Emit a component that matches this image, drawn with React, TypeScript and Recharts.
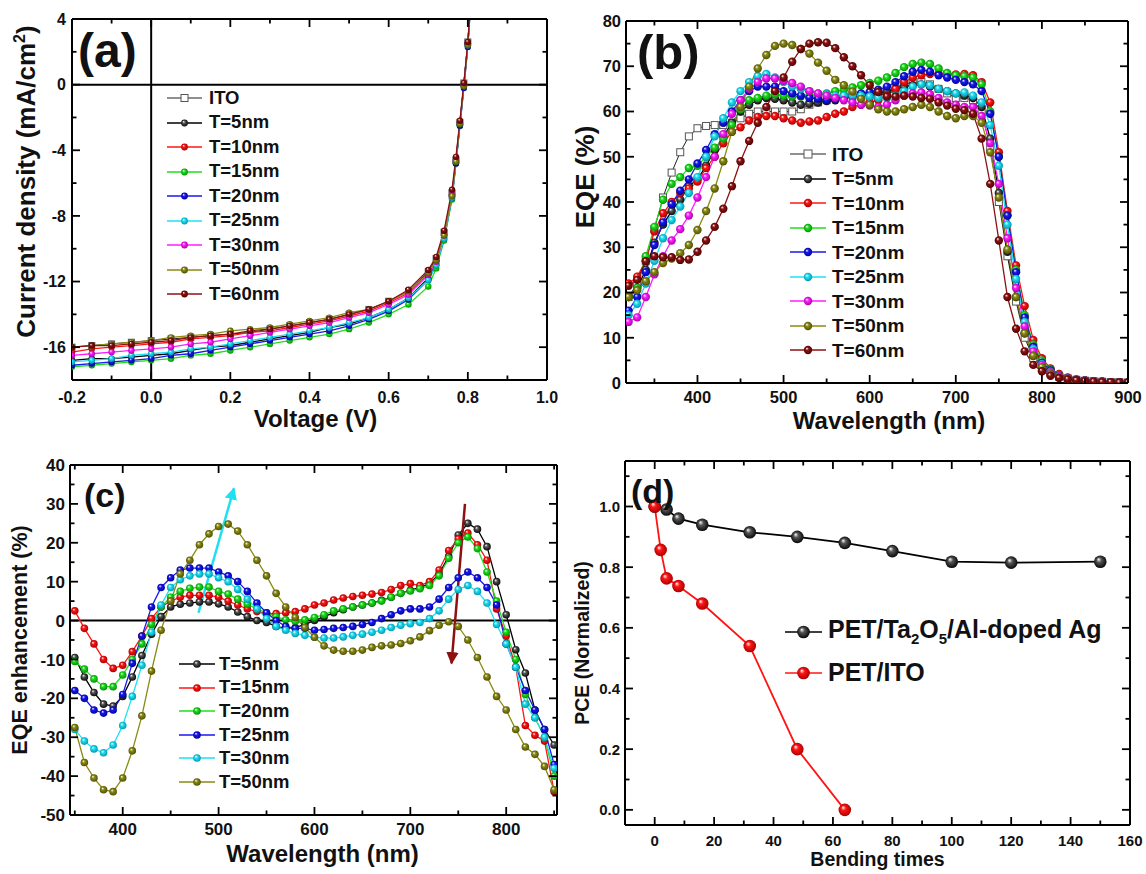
import { LineChart, Line, XAxis, YAxis, ReferenceLine } from 'recharts'

const FONT = '"Liberation Sans", Arial, Helvetica, sans-serif'
const GAP = 6

const COLORS: Record<string, [string, string]> = {
  black: ['#000000', '#000000'],
  red: ['#ff1414', '#a00000'],
  green: ['#1ede1e', '#008a00'],
  blue: ['#1818f0', '#000090'],
  cyan: ['#1fe0f2', '#0090a8'],
  magenta: ['#ff1eff', '#a000a0'],
  olive: ['#8a8a14', '#4a4a00'],
  maroon: ['#8c1212', '#4a0000'],
}

// ---------- (a) J-V curves ----------
const voltage = [-0.2, -0.15, -0.1, -0.05, 0, 0.05, 0.1, 0.15, 0.2, 0.25, 0.3, 0.35, 0.4, 0.45, 0.5, 0.55, 0.6, 0.65, 0.7, 0.72, 0.74, 0.76, 0.77, 0.78, 0.79, 0.8, 0.81]
const jvITO = [-16.0, -15.9, -15.8, -15.7, -15.6, -15.5, -15.4, -15.3, -15.2, -15.1, -14.9, -14.7, -14.5, -14.3, -14.0, -13.7, -13.2, -12.6, -11.4, -10.6, -9.0, -6.6, -4.6, -2.3, 0.1, 2.6, 6]
const jvT5 = [-16.8, -16.7, -16.7, -16.6, -16.5, -16.4, -16.2, -16.0, -15.9, -15.7, -15.5, -15.3, -15.1, -14.8, -14.6, -14.2, -13.7, -13.0, -11.8, -10.9, -9.3, -6.8, -4.7, -2.4, 0.0, 2.5, 6]
const jvT10 = [-16.3, -16.1, -16.0, -15.9, -15.8, -15.7, -15.5, -15.4, -15.3, -15.1, -15.0, -14.8, -14.6, -14.4, -14.1, -13.8, -13.3, -12.7, -11.5, -10.7, -9.1, -6.7, -4.6, -2.3, 0.0, 2.5, 6]
const jvT15 = [-17.2, -17.1, -17.0, -16.9, -16.8, -16.7, -16.5, -16.4, -16.2, -16.0, -15.8, -15.6, -15.4, -15.2, -14.9, -14.5, -14.0, -13.4, -12.3, -11.2, -9.5, -7.0, -4.8, -2.5, -0.1, 2.4, 6]
const jvT20 = [-17.1, -17.0, -16.9, -16.8, -16.7, -16.5, -16.4, -16.2, -16.0, -15.8, -15.6, -15.4, -15.2, -15.0, -14.7, -14.3, -13.8, -13.1, -11.9, -11.0, -9.4, -6.9, -4.8, -2.5, -0.2, 2.3, 6]
const jvT25 = [-16.9, -16.8, -16.7, -16.5, -16.4, -16.3, -16.1, -16.0, -15.8, -15.6, -15.4, -15.2, -15.0, -14.8, -14.5, -14.2, -13.7, -13.0, -11.9, -11.0, -9.4, -6.9, -4.7, -2.4, -0.1, 2.4, 6]
const jvT30 = [-16.5, -16.4, -16.3, -16.2, -16.1, -16.0, -15.8, -15.7, -15.5, -15.3, -15.1, -14.9, -14.7, -14.5, -14.2, -13.9, -13.4, -12.8, -11.6, -10.8, -9.2, -6.7, -4.6, -2.3, 0.0, 2.5, 6]
const jvT50 = [-16.0, -15.9, -15.8, -15.7, -15.6, -15.4, -15.3, -15.2, -15.0, -14.9, -14.8, -14.6, -14.4, -14.2, -13.9, -13.7, -13.2, -12.6, -11.5, -10.7, -9.2, -6.8, -4.7, -2.4, -0.1, 2.4, 6]
const jvT60 = [-16.0, -15.9, -15.9, -15.8, -15.7, -15.6, -15.4, -15.3, -15.2, -15.0, -14.9, -14.7, -14.5, -14.3, -14.0, -13.7, -13.2, -12.5, -11.3, -10.5, -8.9, -6.4, -4.4, -2.2, 0.1, 2.6, 6]

// ---------- (b) EQE spectra, 320..900 nm every 10 nm ----------
const wavelengthB = [320, 330, 340, 350, 360, 370, 380, 390, 400, 410, 420, 430, 440, 450, 460, 470, 480, 490, 500, 510, 520, 530, 540, 550, 560, 570, 580, 590, 600, 610, 620, 630, 640, 650, 660, 670, 680, 690, 700, 710, 720, 730, 740, 750, 760, 770, 780, 790, 800, 810, 820, 830, 840, 850, 860, 870, 880, 890, 900]
const eqeITO = [19, 22, 27, 34, 41, 46.5, 51, 54.5, 56.3, 56.8, 57, 57, 57.5, 58.5, 59.5, 60, 60, 60, 60, 60, 60.5, 61.5, 62, 62.5, 63, 63.3, 63.5, 63.5, 63.5, 63.7, 64, 65, 66, 66.5, 66.5, 66, 65, 64, 63, 63, 62.5, 60, 52, 40, 28, 18, 10, 5.5, 3.5, 2.2, 1.4, 1, 0.7, 0.5, 0.4, 0.3, 0.2, 0.2, 0.1]
const eqeT5 = [19, 21, 25, 31, 35, 38, 40.5, 43.5, 45, 48, 51.5, 54.5, 57.5, 60, 61.5, 62.5, 63, 62.8, 62.5, 62, 61.5, 61.7, 62, 62.3, 62.5, 63, 63.3, 63.5, 63.8, 64, 64.5, 65, 65.5, 65.8, 66, 65.5, 65, 64.5, 64, 63.5, 63, 61, 54, 42, 29, 19, 11, 6, 3.7, 2.3, 1.5, 1, 0.7, 0.5, 0.4, 0.3, 0.2, 0.2, 0.1]
const eqeT10 = [22, 23.5, 27, 33.5, 37.5, 40, 42, 43, 44.5, 47.5, 50, 53, 55.5, 56.5, 58, 58.8, 59, 59, 58.5, 58, 57.5, 57.8, 58, 58.8, 59.5, 60, 61, 61.5, 62, 62.5, 63.5, 65, 66.5, 67.5, 68, 68.3, 68.3, 68.3, 68.2, 68.3, 68, 66.5, 62, 51, 38, 26, 17, 9.5, 5.5, 3.2, 2, 1.2, 0.8, 0.6, 0.4, 0.3, 0.2, 0.2, 0.1]
const eqeT15 = [19, 21, 28, 34.5, 40.5, 44, 45.5, 47.5, 48, 50, 52, 54, 57, 60.5, 62.5, 63, 63.5, 63.8, 63.5, 63.3, 63.3, 63.5, 63.8, 64, 64.5, 64.8, 65.3, 65.8, 66.3, 66.8, 67.5, 68.5, 69.8, 70.5, 70.8, 70.5, 69.5, 68.5, 68, 67.8, 67.5, 66, 60, 50, 37, 25, 15, 8.5, 5, 3, 1.8, 1.1, 0.8, 0.5, 0.4, 0.3, 0.2, 0.2, 0.1]
const eqeT20 = [16, 19, 24.5, 30.5, 35.5, 39.5, 42.5, 45, 48.5, 51.5, 55, 57.5, 60, 62.5, 64.5, 65.5, 65.5, 65.5, 64.5, 64, 63.5, 63, 62.8, 62.5, 62.8, 63.2, 63.5, 64, 64.3, 64.8, 65.5, 66.5, 67.8, 68.8, 69.2, 68.8, 68, 67.5, 67, 66.5, 66, 64.5, 59.5, 50, 37, 24.5, 14.5, 8, 4.5, 2.8, 1.6, 1, 0.7, 0.5, 0.4, 0.3, 0.2, 0.2, 0.1]
const eqeT25 = [15, 17.5, 22, 27, 32, 36, 39, 42, 45.5, 50, 54.5, 58.5, 62, 64.5, 66.5, 67.8, 68.3, 67.5, 66.5, 65.5, 65, 64.5, 64, 63.8, 63.5, 63.5, 63.5, 63.5, 63.3, 63, 63, 63.5, 64.5, 65.5, 66, 65.8, 65, 64.5, 64, 64.2, 63.5, 62, 57, 48, 35, 23, 13.5, 7.5, 4.2, 2.5, 1.5, 1, 0.7, 0.5, 0.4, 0.3, 0.2, 0.2, 0.1]
const eqeT30 = [13.5, 14.5, 19, 24, 28, 31.5, 34, 37, 41, 45.5, 50, 55, 59.5, 62.5, 65, 66.5, 67.3, 67.3, 66.8, 66.3, 65.5, 64.5, 64, 63.5, 63, 62.5, 62, 61.5, 61.3, 61, 61.5, 62.5, 63.5, 64, 64.2, 63.8, 63, 62, 61.5, 61, 61, 59, 53, 44, 32, 21, 12.5, 7, 4, 2.4, 1.5, 1, 0.7, 0.5, 0.4, 0.3, 0.2, 0.2, 0.1]
const eqeT50 = [19, 20.5, 22.5, 24.5, 26.5, 27.5, 28.7, 30.5, 33.8, 38, 43, 49, 55.5, 61, 65.5, 69.5, 72.5, 74.5, 75, 74.7, 73.8, 72.8, 70.8, 69, 67, 65.8, 64.4, 62.8, 61.5, 60.5, 60, 60, 60.5, 61, 61.5, 61, 60, 59, 58.5, 59, 59, 57.5, 51, 41, 29.5, 19, 11, 6, 3.5, 2, 1.3, 0.9, 0.6, 0.4, 0.3, 0.2, 0.2, 0.1, 0.1]
const eqeT60 = [21.5, 22.8, 26.9, 28, 27.8, 27.8, 27.2, 27.3, 29, 31.5, 34.5, 38.5, 43.5, 49, 53.5, 57.5, 61, 64.5, 67.5, 71, 73.8, 75, 75.3, 75.2, 74, 72, 70, 68, 65.8, 64.3, 63.3, 63.3, 63.5, 63.3, 63, 62.8, 62, 61.3, 60.6, 60.3, 59.5, 54, 44, 31.5, 19, 12, 7, 4, 2.6, 1.6, 1.1, 0.8, 0.6, 0.4, 0.3, 0.2, 0.2, 0.1, 0.1]

// ---------- (c) EQE enhancement, 350..850 nm every 10 nm ----------
const wavelengthC = [350, 360, 370, 380, 390, 400, 410, 420, 430, 440, 450, 460, 470, 480, 490, 500, 510, 520, 530, 540, 550, 560, 570, 580, 590, 600, 610, 620, 630, 640, 650, 660, 670, 680, 690, 700, 710, 720, 730, 740, 750, 760, 770, 780, 790, 800, 810, 820, 830, 840, 850]
const enhT5 = [-9.5, -14.5, -18.5, -21.5, -22, -19.5, -14.5, -9, -3.5, 1, 3.5, 4.2, 4.5, 4.8, 4.8, 4.3, 3.5, 2.2, 1, 0, -0.5, -1.5, -2, -1.8, -1, 0, 1, 2, 2.8, 3.5, 4, 4.5, 5.2, 6, 7, 7.8, 8.5, 9.5, 12, 16.5, 22, 25, 23.5, 19, 10, 1.5, -7.5, -13.5, -23, -28, -32]
const enhT15 = [2.5, -2, -6, -10, -12.3, -11.5, -8, -4, 0.5, 3.5, 5, 6, 6.5, 6.5, 6.5, 6, 5, 4, 3, 2.3, 1.8, 1.8, 2, 2.3, 3, 4, 4.5, 5.3, 5.8, 6.2, 6.5, 6.8, 7.2, 8, 9, 9.5, 9, 10, 13, 18, 21, 22.5, 19.5, 15.5, 3, -4, -12, -27, -29.5, -31, -44]
const enhT20 = [-10.5, -12.5, -15, -17, -17, -14, -10, -6, -1, 3.5, 6, 7.5, 8.3, 8.6, 8.6, 7.5, 6.8, 5.5, 4.2, 3, 2, 1, 0.2, -0.2, 0.2, 0.8, 1.5, 2.5, 3, 3.5, 4, 4.5, 5, 6, 7, 7.6, 8.2, 9, 11.5, 16, 20, 21.5, 18.5, 12.5, 5, -3, -10, -19, -25, -30, -40]
const enhT25 = [-18, -20, -23, -23.8, -23, -19, -11, -4, 3.5, 8.5, 11, 13, 13.5, 13.5, 13.5, 12.5, 11.5, 10, 7.5, 4.5, 2, 0, -1.5, -2, -2, -2.5, -2.3, -2, -1.8, -1.5, -1, -0.5, 0.5, 1.5, 2.5, 3, 3, 3.5, 5.5, 8.5, 11, 12.5, 11, 8.5, 4, -6, -12, -18, -23, -28, -37]
const enhT30 = [-28, -31, -33, -34, -32, -27, -19.5, -11.5, -3, 4, 8.5, 10.5, 11.5, 12, 12, 11, 10, 8, 5.5, 3, 0.5, -1.5, -2.5, -3.3, -3.8, -4.3, -4.5, -4.5, -4.2, -3.8, -3.5, -3, -2.5, -1.8, -1.2, -0.8, -0.5, 0.5, 2.5, 5.5, 8, 9, 7.5, 4.5, -1, -6, -12, -21.5, -25, -30, -38]
const enhT50 = [-27.5, -36.5, -40.5, -43.5, -44, -40.5, -33.5, -24.5, -13, -2.5, 5, 12, 15.5, 19.5, 22.3, 24.2, 24.8, 23, 19.5, 15.5, 11.5, 7, 3.5, 0.8, -1.8, -4.3, -6.5, -7.6, -7.9, -7.9, -7.6, -6.9, -6.5, -6.3, -5.9, -5.2, -4.2, -2.6, -1.2, -0.3, -1.5, -5, -9.5, -14.5, -19.5, -23, -28, -32.5, -34.4, -37.5, -43.5]
const arrowUp = [{ x: 479, y: 2 }, { x: 516, y: 34 }]
const arrowDown = [{ x: 757, y: 30 }, { x: 743, y: -11 }]

// ---------- (d) bending test ----------
const bendAg = [0, 4, 8, 16, 32, 48, 64, 80, 100, 120, 150]
const pceAg = [1.0, 0.99, 0.96, 0.94, 0.915, 0.9, 0.88, 0.853, 0.818, 0.815, 0.818]
const bendITO = [0, 2, 4, 8, 16, 32, 48, 64]
const pceITO = [1.0, 0.857, 0.763, 0.738, 0.68, 0.54, 0.2, 0.0]

// ---------- ticks ----------
const ticksAx = [-0.2, -0.1, 0, 0.1, 0.2, 0.3, 0.4, 0.5, 0.6, 0.7, 0.8, 0.9, 1.0]
const majorsAx = [-0.2, 0, 0.2, 0.4, 0.6, 0.8, 1.0]
const ticksAy = [-16, -14, -12, -10, -8, -6, -4, -2, 0, 2, 4]
const majorsAy = [-16, -12, -8, -4, 0, 4]
const ticksBx = [350, 400, 450, 500, 550, 600, 650, 700, 750, 800, 850, 900]
const majorsBx = [400, 500, 600, 700, 800, 900]
const ticksBy = [0, 5, 10, 15, 20, 25, 30, 35, 40, 45, 50, 55, 60, 65, 70, 75, 80]
const majorsBy = [0, 10, 20, 30, 40, 50, 60, 70, 80]
const ticksCx = [350, 400, 450, 500, 550, 600, 650, 700, 750, 800, 850]
const majorsCx = [400, 500, 600, 700, 800]
const ticksCy = [-50, -45, -40, -35, -30, -25, -20, -15, -10, -5, 0, 5, 10, 15, 20, 25, 30, 35, 40]
const majorsCy = [-50, -40, -30, -20, -10, 0, 10, 20, 30, 40]
const ticksDx = [0, 10, 20, 30, 40, 50, 60, 70, 80, 90, 100, 110, 120, 130, 140, 150, 160]
const majorsDx = [0, 20, 40, 60, 80, 100, 120, 140, 160]
const ticksDy = [0, 0.1, 0.2, 0.3, 0.4, 0.5, 0.6, 0.7, 0.8, 0.9, 1.0, 1.1]
const majorsDy = [0, 0.2, 0.4, 0.6, 0.8, 1.0]

type Side = 'bottom' | 'top' | 'left' | 'right'

function frameTick(side: Side, majors: number[], fmt: ((v: number) => string) | null, font: number, gap: number) {
  return (p: any) => {
    const v = Number(p.payload?.value)
    const major = majors.some((m) => Math.abs(m - v) < 1e-6)
    const len = major ? 8 : 4.5
    const st = { stroke: '#000', strokeWidth: 1.8 }
    const tx = { fontFamily: FONT, fontWeight: 700, fontSize: font, fill: '#111' }
    if (side === 'bottom') {
      const ay = p.y - GAP
      return (
        <g>
          <line x1={p.x} x2={p.x} y1={ay} y2={ay - len} {...st} />
          {major && fmt ? <text x={p.x} y={ay + gap} dy="0.72em" textAnchor="middle" {...tx}>{fmt(v)}</text> : null}
        </g>
      )
    }
    if (side === 'top') {
      const ay = p.y + GAP
      return <line x1={p.x} x2={p.x} y1={ay} y2={ay + len} {...st} />
    }
    if (side === 'left') {
      const ax = p.x + GAP
      return (
        <g>
          <line x1={ax} x2={ax + len} y1={p.y} y2={p.y} {...st} />
          {major && fmt ? <text x={ax - gap} y={p.y} dy="0.36em" textAnchor="end" {...tx}>{fmt(v)}</text> : null}
        </g>
      )
    }
    const ax = p.x - GAP
    return <line x1={ax} x2={ax - len} y1={p.y} y2={p.y} {...st} />
  }
}

interface FrameCfg {
  xDomain: [number, number]
  yDomain: [number, number]
  xTicks: number[]
  yTicks: number[]
  xMajors: number[]
  yMajors: number[]
  xFmt: (v: number) => string
  yFmt: (v: number) => string
  font: number
  xGap: number
  yGap: number
  xTitle: (vb: any) => any
  yTitle: (vb: any) => any
}

function frameAxes(c: FrameCfg) {
  const common = {
    type: 'number' as const,
    allowDataOverflow: true,
    interval: 0 as const,
    tickLine: false,
    tickSize: 0,
    tickMargin: GAP,
    axisLine: { stroke: '#000', strokeWidth: 2 },
  }
  return [
    <XAxis key="xb" dataKey="x" {...common} domain={c.xDomain} ticks={c.xTicks} height={30}
      tick={frameTick('bottom', c.xMajors, c.xFmt, c.font, c.xGap)}
      label={(p: any) => c.xTitle(p.viewBox)} />,
    <XAxis key="xt" xAxisId="top" orientation="top" dataKey="x" {...common} domain={c.xDomain} ticks={c.xTicks} height={10}
      tick={frameTick('top', c.xMajors, null, 0, 0)} />,
    <YAxis key="yl" {...common} domain={c.yDomain} ticks={c.yTicks} width={40}
      tick={frameTick('left', c.yMajors, c.yFmt, c.font, c.yGap)}
      label={(p: any) => c.yTitle(p.viewBox)} />,
    <YAxis key="yr" yAxisId="right" orientation="right" {...common} domain={c.yDomain} ticks={c.yTicks} width={10}
      tick={frameTick('right', c.yMajors, null, 0, 0)} />,
  ]
}

const titleStyle = { fontFamily: FONT, fontWeight: 700, fill: '#111' }

function xTitle(text: string, size: number, dy: number, dx = 0) {
  return (vb: any) => (
    <text x={vb.x + vb.width / 2 + dx} y={vb.y + dy} textAnchor="middle" fontSize={size} {...titleStyle}>{text}</text>
  )
}

function yTitle(content: any, size: number, dist: number, dy = 0) {
  return (vb: any) => {
    const x = vb.x + vb.width - dist
    const y = vb.y + vb.height / 2 + dy
    return (
      <text x={x} y={y} transform={`rotate(-90 ${x} ${y})`} textAnchor="middle" fontSize={size} {...titleStyle}>{content}</text>
    )
  }
}

interface Series {
  key: string
  name: string
  color: keyof typeof COLORS
  values: number[]
  square?: boolean
}

const seriesA: Series[] = [
  { key: 'ITO', name: 'ITO', color: 'black', values: jvITO, square: true },
  { key: 'T5', name: 'T=5nm', color: 'black', values: jvT5 },
  { key: 'T10', name: 'T=10nm', color: 'red', values: jvT10 },
  { key: 'T15', name: 'T=15nm', color: 'green', values: jvT15 },
  { key: 'T20', name: 'T=20nm', color: 'blue', values: jvT20 },
  { key: 'T25', name: 'T=25nm', color: 'cyan', values: jvT25 },
  { key: 'T30', name: 'T=30nm', color: 'magenta', values: jvT30 },
  { key: 'T50', name: 'T=50nm', color: 'olive', values: jvT50 },
  { key: 'T60', name: 'T=60nm', color: 'maroon', values: jvT60 },
]

const seriesB: Series[] = [
  { key: 'ITO', name: 'ITO', color: 'black', values: eqeITO, square: true },
  { key: 'T5', name: 'T=5nm', color: 'black', values: eqeT5 },
  { key: 'T10', name: 'T=10nm', color: 'red', values: eqeT10 },
  { key: 'T15', name: 'T=15nm', color: 'green', values: eqeT15 },
  { key: 'T20', name: 'T=20nm', color: 'blue', values: eqeT20 },
  { key: 'T25', name: 'T=25nm', color: 'cyan', values: eqeT25 },
  { key: 'T30', name: 'T=30nm', color: 'magenta', values: eqeT30 },
  { key: 'T50', name: 'T=50nm', color: 'olive', values: eqeT50 },
  { key: 'T60', name: 'T=60nm', color: 'maroon', values: eqeT60 },
]

const seriesC: Series[] = [
  { key: 'T5', name: 'T=5nm', color: 'black', values: enhT5 },
  { key: 'T15', name: 'T=15nm', color: 'red', values: enhT15 },
  { key: 'T20', name: 'T=20nm', color: 'green', values: enhT20 },
  { key: 'T25', name: 'T=25nm', color: 'blue', values: enhT25 },
  { key: 'T30', name: 'T=30nm', color: 'cyan', values: enhT30 },
  { key: 'T50', name: 'T=50nm', color: 'olive', values: enhT50 },
]

function toRows(xs: number[], list: Series[]) {
  return xs.map((x, i) => {
    const row: Record<string, number> = { x }
    list.forEach((s) => {
      row[s.key] = s.values[i]
    })
    return row
  })
}

function squareDot(size: number) {
  return (p: any) => {
    if (p.cx == null || p.cy == null) return <g key={`sq-${p.index}`} />
    return (
      <rect key={`sq-${p.index}`} x={p.cx - size / 2} y={p.cy - size / 2} width={size} height={size}
        fill="#fff" stroke="#555" strokeWidth={1} />
    )
  }
}

function seriesLines(list: Series[], r: number, sq: number, width: number) {
  return list.map((s) => (
    <Line key={s.key} dataKey={s.key} name={s.name} type="linear" stroke={s.square ? '#222' : COLORS[s.color][0]}
      strokeWidth={s.square ? 1 : width} isAnimationActive={false} activeDot={false}
      dot={s.square ? squareDot(sq) : { r, fill: `url(#sph-${s.color})`, stroke: 'none' }} />
  ))
}

function Marker({ s, r, sq, w }: { s: Series; r: number; sq: number; w: number }) {
  const c = s.square ? '#222' : COLORS[s.color][0]
  const mid = w / 2
  return (
    <svg width={w} height={16} style={{ display: 'block', flex: 'none', overflow: 'visible' }}>
      <line x1={0} x2={w} y1={8} y2={8} stroke={c} strokeWidth={s.square ? 1.2 : 1.6} />
      {s.square ? (
        <rect x={mid - sq / 2} y={8 - sq / 2} width={sq} height={sq} fill="#fff" stroke="#555" strokeWidth={1} />
      ) : (
        <circle cx={mid} cy={8} r={r} fill={`url(#sph-${s.color})`} />
      )}
    </svg>
  )
}

function LegendBox(props: { list: Series[]; left: number; top: number; rowH: number; font: number; w: number; gap: number; r: number; sq: number }) {
  const { list, left, top, rowH, font, w, gap, r, sq } = props
  return (
    <div style={{ position: 'absolute', left, top: top - rowH / 2, fontFamily: FONT, fontWeight: 700, fontSize: font, color: '#111' }}>
      {list.map((s) => (
        <div key={s.key} style={{ display: 'flex', alignItems: 'center', height: rowH, whiteSpace: 'nowrap' }}>
          <Marker s={s} r={r} sq={sq} w={w} />
          <span style={{ marginLeft: gap, lineHeight: 1 }}>{s.name}</span>
        </div>
      ))}
    </div>
  )
}

function PanelLetter({ text, left, top, size }: { text: string; left: number; top: number; size: number }) {
  return (
    <div style={{ position: 'absolute', left, top, fontFamily: FONT, fontWeight: 700, fontSize: size, lineHeight: 1, color: '#111' }}>
      {text}
    </div>
  )
}

const quad = (left: number, top: number): React.CSSProperties => ({ position: 'absolute', left, top, width: 573, height: 437 })

function PanelA() {
  const rows = toRows(voltage, seriesA)
  return (
    <div style={quad(0, 0)}>
      <LineChart width={573} height={437} data={rows} margin={{ top: 9, right: 16, bottom: 27, left: 32 }}>
        {frameAxes({
          xDomain: [-0.2, 1.0], yDomain: [-18, 4], xTicks: ticksAx, yTicks: ticksAy, xMajors: majorsAx, yMajors: majorsAy,
          xFmt: (v) => v.toFixed(1), yFmt: (v) => String(v), font: 16, xGap: 11, yGap: 6,
          xTitle: xTitle('Voltage (V)', 24, 47, 6),
          yTitle: yTitle(<>Current density (mA/cm<tspan dy={-10} fontSize={16}>2</tspan><tspan dy={10}>)</tspan></>, 26, 37, -18),
        })}
        <ReferenceLine y={0} stroke="#000" strokeWidth={2} />
        <ReferenceLine x={0} stroke="#000" strokeWidth={2} />
        {seriesLines(seriesA, 3.2, 6, 1.3)}
      </LineChart>
      <PanelLetter text="(a)" left={78} top={27} size={48} />
      <LegendBox list={seriesA} left={167} top={98} rowH={24.5} font={18.5} w={35} gap={7} r={3.4} sq={7} />
    </div>
  )
}

function PanelB() {
  const rows = toRows(wavelengthB, seriesB)
  return (
    <div style={quad(573, 0)}>
      <LineChart width={573} height={437} data={rows} margin={{ top: 11, right: 8, bottom: 24, left: 13 }}>
        {frameAxes({
          xDomain: [317, 900], yDomain: [0, 80], xTicks: ticksBx, yTicks: ticksBy, xMajors: majorsBx, yMajors: majorsBy,
          xFmt: (v) => String(v), yFmt: (v) => String(v), font: 16.5, xGap: 8, yGap: 5,
          xTitle: xTitle('Wavelength (nm)', 24, 46, 12),
          yTitle: yTitle('EQE (%)', 26, 32, -25),
        })}
        {seriesLines(seriesB, 4.2, 7, 1.3)}
      </LineChart>
      <PanelLetter text="(b)" left={64} top={28} size={49} />
      <LegendBox list={seriesB} left={217} top={154} rowH={24.5} font={19} w={36} gap={6} r={4.2} sq={8} />
    </div>
  )
}

function PanelC() {
  const rows = toRows(wavelengthC, seriesC)
  return (
    <div style={quad(0, 437)}>
      <LineChart width={573} height={437} data={rows} margin={{ top: 18, right: 6, bottom: 29, left: 30 }}>
        {frameAxes({
          xDomain: [345, 853], yDomain: [-50, 40], xTicks: ticksCx, yTicks: ticksCy, xMajors: majorsCx, yMajors: majorsCy,
          xFmt: (v) => String(v), yFmt: (v) => String(v), font: 17, xGap: 8, yGap: 5,
          xTitle: xTitle('Wavelength (nm)', 24, 47, 9),
          yTitle: yTitle('EQE enhancement (%)', 21.5, 43, 0),
        })}
        <ReferenceLine y={0} stroke="#000" strokeWidth={2} />
        {seriesLines(seriesC, 3.8, 7, 1.3)}
        <ReferenceLine segment={arrowUp} stroke={COLORS.cyan[0]} strokeWidth={2.5} markerEnd="url(#arr-cyan)" />
        <ReferenceLine segment={arrowDown} stroke={COLORS.maroon[0]} strokeWidth={2.5} markerEnd="url(#arr-maroon)" />
      </LineChart>
      <PanelLetter text="(c)" left={84} top={41} size={34} />
      <LegendBox list={seriesC} left={179} top={227} rowH={23.6} font={18.5} w={36} gap={4} r={3.8} sq={7} />
    </div>
  )
}

const seriesD: Series[] = [
  { key: 'Ag', name: 'PET/Ta2O5/Al-doped Ag', color: 'black', values: pceAg },
  { key: 'ITO', name: 'PET/ITO', color: 'red', values: pceITO },
]

function PanelD() {
  const rowsAg = bendAg.map((x, i) => ({ x, y: pceAg[i] }))
  const rowsITO = bendITO.map((x, i) => ({ x, y: pceITO[i] }))
  return (
    <div style={quad(573, 437)}>
      <LineChart width={573} height={437} margin={{ top: 14, right: 6, bottom: 19, left: 12 }}>
        {frameAxes({
          xDomain: [-10, 160], yDomain: [-0.05, 1.15], xTicks: ticksDx, yTicks: ticksDy, xMajors: majorsDx, yMajors: majorsDy,
          xFmt: (v) => String(v), yFmt: (v) => v.toFixed(1), font: 15, xGap: 10, yGap: 5,
          xTitle: xTitle('Bending times', 19.5, 41, 0),
          yTitle: yTitle('PCE (Normalized)', 19.5, 36, 0),
        })}
        <Line data={rowsAg} dataKey="y" name={seriesD[0].name} stroke="#000" strokeWidth={1.8} isAnimationActive={false} activeDot={false}
          dot={{ r: 6.3, fill: 'url(#sph-black)', stroke: 'none' }} />
        <Line data={rowsITO} dataKey="y" name={seriesD[1].name} stroke={COLORS.red[0]} strokeWidth={1.8} isAnimationActive={false} activeDot={false}
          dot={{ r: 6.3, fill: 'url(#sph-red)', stroke: 'none' }} />
      </LineChart>
      <PanelLetter text="(d)" left={58} top={37} size={34} />
      <div style={{ position: 'absolute', left: 212, top: 174, fontFamily: FONT, fontWeight: 700, fontSize: 25, color: '#111' }}>
        {seriesD.map((s, i) => (
          <div key={s.key} style={{ display: 'flex', alignItems: 'center', height: 41, whiteSpace: 'nowrap' }}>
            <Marker s={s} r={6.3} sq={8} w={37} />
            <span style={{ marginLeft: 6, lineHeight: 1 }}>
              {i === 0 ? (<>PET/Ta<sub style={{ fontSize: 15 }}>2</sub>O<sub style={{ fontSize: 15 }}>5</sub>/Al-doped Ag</>) : s.name}
            </span>
          </div>
        ))}
      </div>
    </div>
  )
}

function Defs() {
  return (
    <svg width={0} height={0} style={{ position: 'absolute' }}>
      <defs>
        {Object.keys(COLORS).map((k) => (
          <radialGradient key={k} id={`sph-${k}`} cx="50%" cy="50%" r="55%" fx="35%" fy="30%">
            <stop offset="0%" stopColor="#ffffff" />
            <stop offset="35%" stopColor={k === 'black' ? '#555' : COLORS[k][0]} />
            <stop offset="100%" stopColor={COLORS[k][1]} />
          </radialGradient>
        ))}
        <marker id="arr-cyan" viewBox="0 0 10 10" refX="9" refY="5" markerWidth="5" markerHeight="5" orient="auto">
          <path d="M0,0 L10,5 L0,10 z" fill={COLORS.cyan[0]} />
        </marker>
        <marker id="arr-maroon" viewBox="0 0 10 10" refX="9" refY="5" markerWidth="5" markerHeight="5" orient="auto">
          <path d="M0,0 L10,5 L0,10 z" fill={COLORS.maroon[0]} />
        </marker>
      </defs>
    </svg>
  )
}

export default function App() {
  return (
    <div style={{ position: 'absolute', left: 0, top: 0, width: 1146, height: 874, background: '#fff' }}>
      <style>{'.recharts-surface{overflow:visible}'}</style>
      <Defs />
      <PanelA />
      <PanelB />
      <PanelC />
      <PanelD />
    </div>
  )
}
